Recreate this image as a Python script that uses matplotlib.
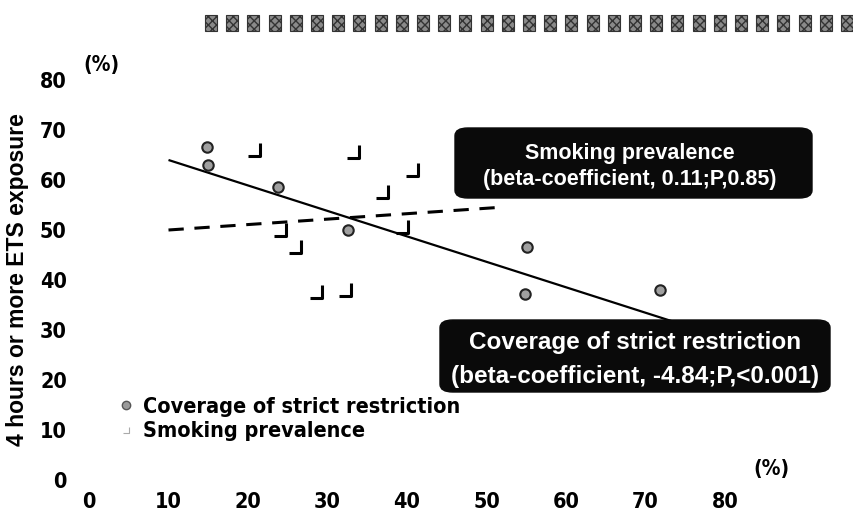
import matplotlib
matplotlib.use("Agg")
import matplotlib.pyplot as plt
from matplotlib.path import Path
from matplotlib.patches import FancyBboxPatch, Rectangle
from matplotlib.lines import Line2D
from matplotlib import font_manager as fm

# ---- data ----
cov_x = [14.9, 15.0, 23.8, 32.6, 55.1, 54.8, 71.8]
cov_y = [66.7, 63.0, 58.7, 50.0, 46.7, 37.3, 38.0]
smk_x = [20.7, 33.2, 40.6, 36.8, 24.0, 25.9, 28.6, 32.2, 39.4]
smk_y = [66.0, 65.7, 62.0, 57.7, 50.0, 46.7, 37.7, 38.0, 50.7]
cov_fit_x = [10.0, 76.0]
cov_fit_y = [64.0, 30.4]
smk_fit_x = [10.0, 52.3]
smk_fit_y = [50.0, 54.6]
ticks = [0, 10, 20, 30, 40, 50, 60, 70, 80]
ylabel = "4 hours or more ETS exposure"
legend_labels = ["Coverage of strict restriction", "Smoking prevalence"]
box1 = ["Smoking prevalence", "(beta-coefficient, 0.11;P,0.85)"]
box2 = ["Coverage of strict restriction", "(beta-coefficient, -4.84;P,<0.001)"]

SANS = ["Liberation Sans", "DejaVu Sans"]
NARROW_PROPS = dict(family="DejaVu Sans", stretch="condensed", weight="bold")

W, H = 854, 514
fig = plt.figure(figsize=(W / 100, H / 100), dpi=100)
fig.patch.set_facecolor("white")

def fx(px):
    return px / W

def fy(py):
    return 1 - py / H

ax = fig.add_axes([fx(89), fy(480), (725 - 89) / W, (480 - 80) / H])
ax.set_xlim(0, 80)
ax.set_ylim(0, 80)
for s in ax.spines.values():
    s.set_visible(False)
ax.set_xticks(ticks)
ax.set_yticks(ticks)
tp = fm.FontProperties(size=15.5, **NARROW_PROPS)
ax.set_xticklabels([str(t) for t in ticks], fontproperties=tp)
ax.set_yticklabels([str(t) for t in ticks], fontproperties=tp)
ax.tick_params(axis="both", length=0)
ax.tick_params(axis="x", pad=9)
ax.tick_params(axis="y", pad=16)
ax.patch.set_alpha(0)

Lmark = Path([(0.5, 0.55), (0.5, -0.5), (-0.5, -0.5)],
             [Path.MOVETO, Path.LINETO, Path.LINETO])

ax.plot(cov_fit_x, cov_fit_y, color="black", lw=1.6, solid_capstyle="butt")
ax.plot(smk_fit_x, smk_fit_y, color="black", lw=2.2, dashes=(5, 3.5))
ax.plot(cov_x, cov_y, ls="none", marker="o", ms=7.5, mfc="#a0a0a0", mec="#222222", mew=1.5)
ax.plot(smk_x, smk_y, ls="none", marker=Lmark, ms=10, mfc="none", mec="black", mew=2.2)

h1 = Line2D([], [], ls="none", marker="o", ms=6, mfc="#9a9a9a", mec="#555555", mew=1)
h2 = Line2D([], [], ls="none", marker=Lmark, ms=5, mfc="none", mec="#aaaaaa", mew=0.8)
fig.legend([h1, h2], legend_labels, loc="upper left",
           bbox_to_anchor=(fx(117), fy(397)), frameon=False,
           prop=fm.FontProperties(size=15.5, **NARROW_PROPS),
           handlelength=0.8, handletextpad=0.4, labelspacing=0.2,
           borderpad=0, borderaxespad=0)

def box(x0, y0, x1, y1, lines, ys, xc, fs):
    p = FancyBboxPatch((fx(x0), fy(y1)), fx(x1) - fx(x0), fy(y0) - fy(y1),
                       boxstyle="round,pad=0,rounding_size=0.015",
                       transform=fig.transFigure, facecolor="#0a0a0a",
                       edgecolor="#0a0a0a", zorder=5)
    fig.patches.append(p)
    for t, yy in zip(lines, ys):
        fig.text(fx(xc), fy(yy), t, color="white", ha="center", va="center",
                 fontfamily=SANS, fontweight="bold", fontsize=fs, zorder=6)

box(455, 128, 812, 198, box1, [153, 180], 630, 15.5)
box(440, 320, 830, 392, box2, [342, 376], 635, 17.5)

up = fm.FontProperties(size=15, **NARROW_PROPS)
fig.text(fx(101), fy(65), "(%)", ha="center", va="center", fontproperties=up)
fig.text(fx(771), fy(469), "(%)", ha="center", va="center", fontproperties=up)

fig.text(fx(18), fy(280), ylabel, rotation=90, ha="center", va="center",
         fontfamily=SANS, fontweight="bold", fontsize=16.5)

for i in range(31):
    x0 = 205 + i * 21.2
    r = Rectangle((fx(x0), fy(31)), 12 / W, 16 / H, transform=fig.transFigure,
                  facecolor="#8a8a8a", edgecolor="#333333", hatch="xxxx", lw=0.8)
    fig.patches.append(r)

fig.savefig("out.png", dpi=100)
